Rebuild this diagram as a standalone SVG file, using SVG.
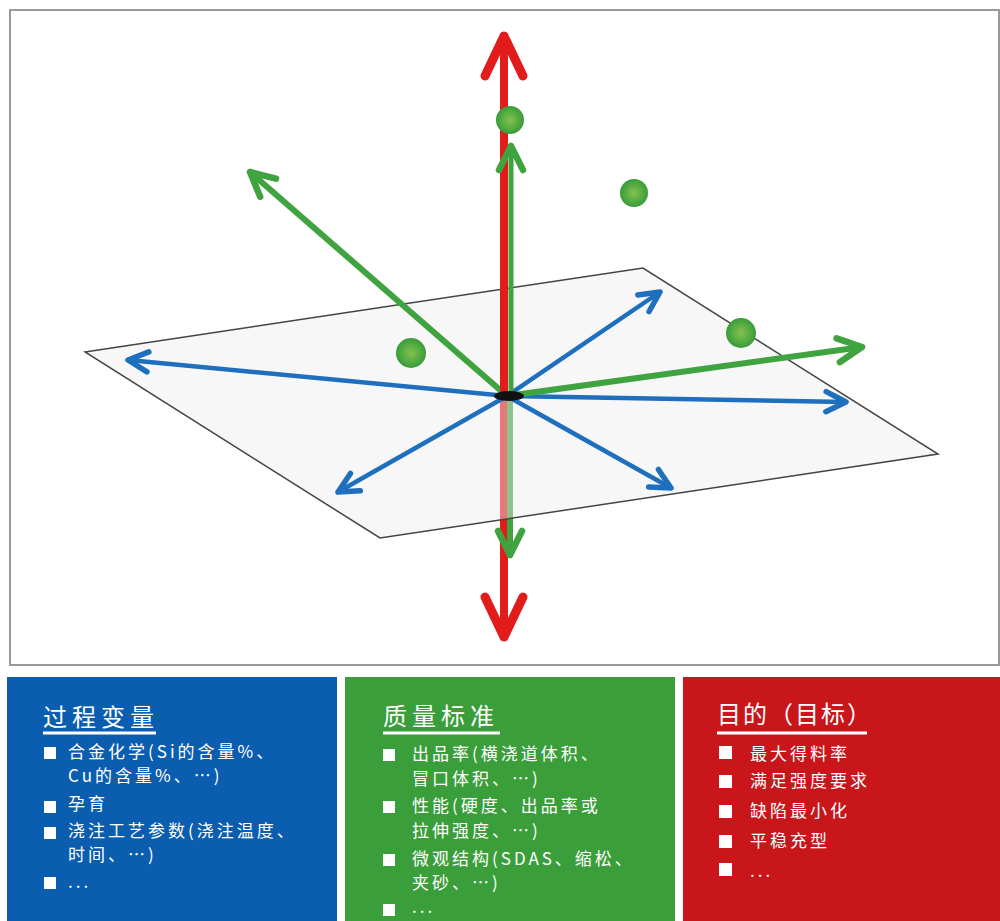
<svg xmlns="http://www.w3.org/2000/svg" width="1000" height="921" viewBox="0 0 1000 921">
<style>
.t{font-family:"Noto Sans CJK SC","Liberation Sans",sans-serif;fill:#fff}
.title{font-size:24px;letter-spacing:5px}
.item{font-size:17px;letter-spacing:3px}
.sq{fill:#fff}
.ul{stroke:#fff;stroke-width:3}
.blue{stroke:#1f6fbf;stroke-width:4.5;fill:none;stroke-linecap:round}
.green{stroke:#3fa33f;stroke-width:6;fill:none;stroke-linecap:round}
.red{stroke:#e21b1b;stroke-width:8;fill:none;stroke-linecap:round}
</style>
<defs>
<marker id="mb" markerUnits="userSpaceOnUse" viewBox="-24 -14 28 28" markerWidth="28" markerHeight="28" refX="0" refY="0" orient="auto" overflow="visible">
<path d="M-20,-10 L0,0 L-20,10" fill="none" stroke="#1f6fbf" stroke-width="5.5" stroke-linecap="round" stroke-linejoin="round"/>
</marker>
<marker id="mg" markerUnits="userSpaceOnUse" viewBox="-30 -16 34 32" markerWidth="34" markerHeight="32" refX="0" refY="0" orient="auto" overflow="visible">
<path d="M-24,-12 L0,0 L-24,12" fill="none" stroke="#3fa33f" stroke-width="6.5" stroke-linecap="round" stroke-linejoin="round"/>
</marker>
<marker id="mr" markerUnits="userSpaceOnUse" viewBox="-48 -26 52 52" markerWidth="52" markerHeight="52" refX="0" refY="0" orient="auto" overflow="visible">
<path d="M-40,-19 L0,0 L-40,19" fill="none" stroke="#e21b1b" stroke-width="9" stroke-linecap="round" stroke-linejoin="round"/>
</marker>
<radialGradient id="dot" cx="0.5" cy="0.5" r="0.5">
<stop offset="0" stop-color="#86c04e"/>
<stop offset="0.6" stop-color="#55ad42"/>
<stop offset="1" stop-color="#3a9a3a"/>
</radialGradient>
</defs>

<rect x="0" y="0" width="1000" height="921" fill="#fff"/>
<rect id="frame" x="10" y="10" width="989" height="655" fill="#fff" stroke="#9a9a9a" stroke-width="2"/>

<g id="connectors">
  <line class="red" x1="504" y1="396" x2="504" y2="637" marker-end="url(#mr)"/>
  <line class="green" x1="510" y1="396" x2="510" y2="555" marker-end="url(#mg)"/>
  <polygon id="plane" points="85,352 643,268 938,454 380,538" fill="#eeeeee" fill-opacity="0.45" stroke="#444" stroke-width="1.5"/>
  <line class="blue" x1="507" y1="396" x2="128" y2="360" marker-end="url(#mb)"/>
  <line class="blue" x1="507" y1="396" x2="660" y2="292" marker-end="url(#mb)"/>
  <line class="blue" x1="507" y1="396" x2="846" y2="402" marker-end="url(#mb)"/>
  <line class="blue" x1="507" y1="396" x2="338" y2="492" marker-end="url(#mb)"/>
  <line class="blue" x1="507" y1="396" x2="671" y2="488" marker-end="url(#mb)"/>
  <line class="green" x1="507" y1="396" x2="250" y2="172" marker-end="url(#mg)"/>
  <line class="green" x1="507" y1="396" x2="862" y2="347" marker-end="url(#mg)"/>
  <line class="red" x1="504" y1="396" x2="504" y2="36" marker-end="url(#mr)"/>
  <line class="green" x1="511" y1="396" x2="511" y2="146" marker-end="url(#mg)" style="stroke-width:5"/>
  <ellipse cx="509" cy="396" rx="15" ry="5" fill="#111"/>
</g>

<g id="dot1"><circle cx="510" cy="120" r="14" fill="url(#dot)"/></g>
<g id="dot2"><circle cx="634" cy="193" r="14" fill="url(#dot)"/></g>
<g id="dot3"><circle cx="411" cy="353" r="15" fill="url(#dot)"/></g>
<g id="dot4"><circle cx="741" cy="333" r="15" fill="url(#dot)"/></g>

<g id="panel-process">
  <rect x="7" y="677" width="330" height="244" fill="#0b5db0"/>
  <text class="t title" x="43" y="726">过程变量</text>
  <line class="ul" x1="43" y1="733" x2="156" y2="733"/>
  <rect class="sq" x="44" y="747" width="12" height="12"/>
  <text class="t item" x="68" y="758">合金化学(Si的含量%、</text>
  <text class="t item" x="68" y="782">Cu的含量%、…)</text>
  <rect class="sq" x="44" y="801" width="12" height="12"/>
  <text class="t item" x="68" y="810">孕育</text>
  <rect class="sq" x="44" y="827" width="12" height="12"/>
  <text class="t item" x="68" y="837">浇注工艺参数(浇注温度、</text>
  <text class="t item" x="68" y="861">时间、…)</text>
  <rect class="sq" x="44" y="877" width="12" height="12"/>
  <text class="t item" x="68" y="888">...</text>
</g>

<g id="panel-quality">
  <rect x="345" y="677" width="330" height="244" fill="#3a9e3a"/>
  <text class="t title" x="383" y="725">质量标准</text>
  <line class="ul" x1="383" y1="733" x2="500" y2="733"/>
  <rect class="sq" x="383" y="749" width="12" height="12"/>
  <text class="t item" x="412" y="760">出品率(横浇道体积、</text>
  <text class="t item" x="412" y="785">冒口体积、…)</text>
  <rect class="sq" x="383" y="801" width="12" height="12"/>
  <text class="t item" x="412" y="812">性能(硬度、出品率或</text>
  <text class="t item" x="412" y="837">拉伸强度、…)</text>
  <rect class="sq" x="383" y="854" width="12" height="12"/>
  <text class="t item" x="412" y="865">微观结构(SDAS、缩松、</text>
  <text class="t item" x="412" y="889">夹砂、…)</text>
  <rect class="sq" x="383" y="904" width="12" height="12"/>
  <text class="t item" x="412" y="913">...</text>
</g>

<g id="panel-goal">
  <rect x="683" y="677" width="317" height="244" fill="#c8161b"/>
  <text class="t title" x="717" y="723" style="letter-spacing:2px">目的（目标）</text>
  <line class="ul" x1="717" y1="733" x2="867" y2="733"/>
  <rect class="sq" x="719" y="746" width="13" height="13"/>
  <text class="t item" x="750" y="760">最大得料率</text>
  <rect class="sq" x="719" y="775" width="13" height="13"/>
  <text class="t item" x="750" y="787">满足强度要求</text>
  <rect class="sq" x="719" y="805" width="13" height="13"/>
  <text class="t item" x="750" y="817">缺陷最小化</text>
  <rect class="sq" x="719" y="835" width="13" height="13"/>
  <text class="t item" x="750" y="847">平稳充型</text>
  <rect class="sq" x="719" y="863" width="13" height="13"/>
  <text class="t item" x="750" y="877">...</text>
</g>
</svg>
